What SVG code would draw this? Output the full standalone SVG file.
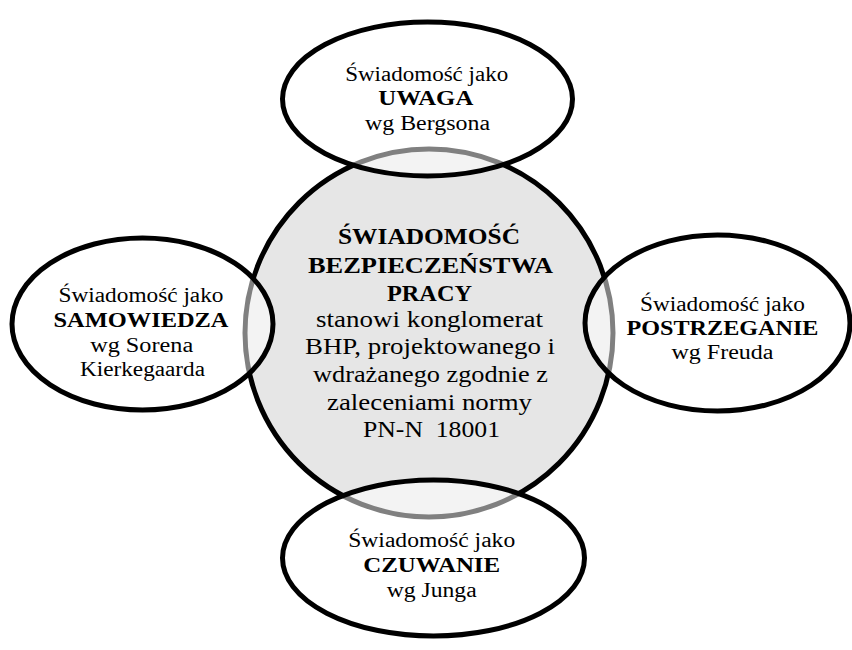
<svg xmlns="http://www.w3.org/2000/svg" width="852" height="650" viewBox="0 0 852 650">
<style>
.bg{fill:#ffffff}
.core{fill:#e6e6e6;stroke:#000;stroke-width:5}
.sat{fill:#ffffff;fill-opacity:0.5;stroke:#000;stroke-width:5}
text{font-family:"Liberation Serif","Times New Roman",serif;fill:#000;text-anchor:middle}
.s{font-size:20px}
.c{font-size:24px}
.b{font-weight:bold}
</style>
<rect class="bg" x="0" y="0" width="852" height="650"/>
<g id="center">
<circle class="core" cx="429" cy="333" r="184"/>
<text class="c b" x="429" y="244" textLength="182" lengthAdjust="spacingAndGlyphs">ŚWIADOMOŚĆ</text>
<text class="c b" x="430.5" y="272.5" textLength="245" lengthAdjust="spacingAndGlyphs">BEZPIECZEŃSTWA</text>
<text class="c b" x="429.5" y="300.5" textLength="85" lengthAdjust="spacingAndGlyphs">PRACY</text>
<text class="c" x="429.5" y="326.5" textLength="227" lengthAdjust="spacingAndGlyphs">stanowi konglomerat</text>
<text class="c" x="430" y="354" textLength="250" lengthAdjust="spacingAndGlyphs">BHP, projektowanego i</text>
<text class="c" x="430.5" y="381.5" textLength="235" lengthAdjust="spacingAndGlyphs">wdrażanego zgodnie z</text>
<text class="c" x="429.5" y="409.5" textLength="205" lengthAdjust="spacingAndGlyphs">zaleceniami normy</text>
<text class="c" x="431.5" y="437" textLength="137" lengthAdjust="spacingAndGlyphs" xml:space="preserve">PN-N  18001</text>
</g>
<g id="uwaga">
<ellipse class="sat" cx="427.5" cy="99" rx="145" ry="77"/>
<text class="s" x="426.7" y="81" textLength="163" lengthAdjust="spacingAndGlyphs">Świadomość jako</text>
<text class="s b" x="425.8" y="105" textLength="95" lengthAdjust="spacingAndGlyphs">UWAGA</text>
<text class="s" x="427.5" y="129.5" textLength="125" lengthAdjust="spacingAndGlyphs">wg Bergsona</text>
</g>
<g id="samowiedza">
<ellipse class="sat" cx="142.5" cy="324" rx="130.5" ry="86"/>
<text class="s" x="141" y="301.5" textLength="165" lengthAdjust="spacingAndGlyphs">Świadomość jako</text>
<text class="s b" x="141" y="326.5" textLength="175" lengthAdjust="spacingAndGlyphs">SAMOWIEDZA</text>
<text class="s" x="141.7" y="351.5" textLength="103" lengthAdjust="spacingAndGlyphs">wg Sorena</text>
<text class="s" x="142.5" y="376" textLength="125" lengthAdjust="spacingAndGlyphs">Kierkegaarda</text>
</g>
<g id="postrzeganie">
<ellipse class="sat" cx="717.5" cy="323" rx="132.5" ry="88"/>
<text class="s" x="722.5" y="310.5" textLength="165" lengthAdjust="spacingAndGlyphs">Świadomość jako</text>
<text class="s b" x="722.5" y="335" textLength="192" lengthAdjust="spacingAndGlyphs">POSTRZEGANIE</text>
<text class="s" x="722.5" y="359.3" textLength="102" lengthAdjust="spacingAndGlyphs">wg Freuda</text>
</g>
<g id="czuwanie">
<ellipse class="sat" cx="433.5" cy="558" rx="151" ry="78"/>
<text class="s" x="431.7" y="547.3" textLength="167" lengthAdjust="spacingAndGlyphs">Świadomość jako</text>
<text class="s b" x="431.7" y="571.7" textLength="137" lengthAdjust="spacingAndGlyphs">CZUWANIE</text>
<text class="s" x="431.7" y="596.5" textLength="90" lengthAdjust="spacingAndGlyphs">wg Junga</text>
</g>
</svg>
